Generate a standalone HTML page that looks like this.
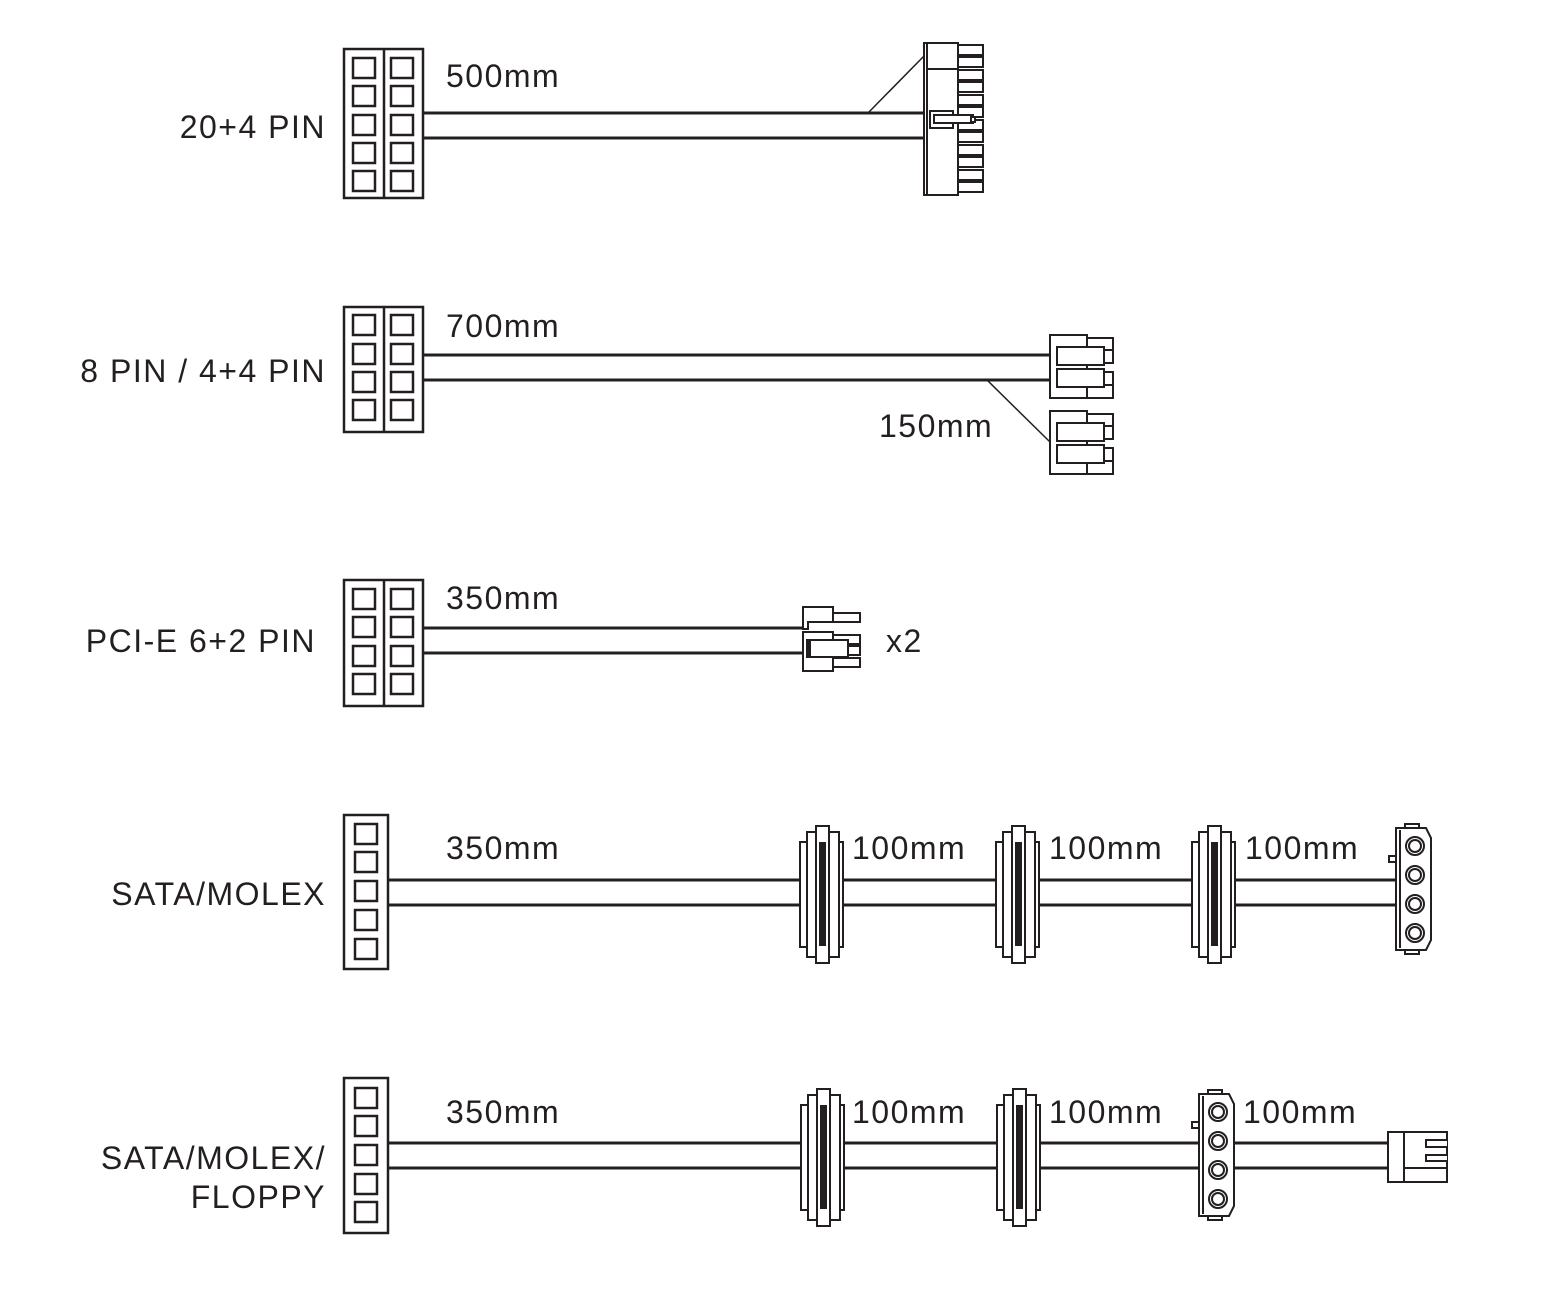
<!DOCTYPE html>
<html><head><meta charset="utf-8"><style>
html,body{margin:0;padding:0;background:#fff;}
svg{display:block}
text{font-family:"Liberation Sans",Arial,sans-serif;font-size:32px;letter-spacing:1.5px;fill:#231f20;}
</style></head><body>
<svg width="1548" height="1294" viewBox="0 0 1548 1294" xmlns="http://www.w3.org/2000/svg">
<defs>
<g id="sata" fill="#fff" stroke="#231f20" stroke-width="2">
<rect x="0" y="16" width="43" height="105"/>
<rect x="7" y="6" width="32" height="125"/>
<rect x="16" y="0" width="13" height="137"/>
<rect x="20" y="17" width="5" height="102" fill="#231f20"/>
</g>
<g id="molex" fill="#fff" stroke="#231f20" stroke-width="2">
<path d="M3 0 H33 L38 10 V112 L33 122 H3 Z"/>
<line x1="7" y1="2" x2="7" y2="120"/>
<rect x="12" y="-4" width="14" height="4"/>
<rect x="12" y="122" width="14" height="4"/>
<rect x="-4" y="28" width="7" height="6"/>
<circle cx="22" cy="18" r="9"/><circle cx="22" cy="18" r="6"/>
<circle cx="22" cy="47" r="9"/><circle cx="22" cy="47" r="6"/>
<circle cx="22" cy="76" r="9"/><circle cx="22" cy="76" r="6"/>
<circle cx="22" cy="105" r="9"/><circle cx="22" cy="105" r="6"/>
</g>
<g id="eps" fill="#fff" stroke="#231f20" stroke-width="2">
<rect x="37" y="3" width="26" height="22"/>
<rect x="37" y="41" width="26" height="22"/>
<rect x="0" y="0" width="37" height="63"/>
<rect x="7" y="12" width="47" height="18"/>
<rect x="7" y="34" width="47" height="18"/>
<rect x="54" y="15" width="9" height="13"/>
<rect x="54" y="37" width="9" height="13"/>
</g>
</defs>
<g fill="none" stroke="#231f20" stroke-width="2.5">
<rect x="344" y="49" width="79" height="149"/><line x1="384" y1="49" x2="384" y2="198"/>
<rect x="353" y="58" width="22" height="20"/><rect x="391" y="58" width="22" height="20"/>
<rect x="353" y="86" width="22" height="20"/><rect x="391" y="86" width="22" height="20"/>
<rect x="353" y="115" width="22" height="20"/><rect x="391" y="115" width="22" height="20"/>
<rect x="353" y="143" width="22" height="20"/><rect x="391" y="143" width="22" height="20"/>
<rect x="353" y="171" width="22" height="20"/><rect x="391" y="171" width="22" height="20"/>
<line x1="423" y1="113" x2="926" y2="113" stroke-width="3"/>
<line x1="423" y1="138" x2="926" y2="138" stroke-width="3"/>
<line x1="868" y1="113" x2="925" y2="55" stroke-width="1.5"/>
<rect x="344" y="307" width="79" height="125"/><line x1="384" y1="307" x2="384" y2="432"/>
<rect x="353" y="315" width="22" height="20"/><rect x="391" y="315" width="22" height="20"/>
<rect x="353" y="344" width="22" height="20"/><rect x="391" y="344" width="22" height="20"/>
<rect x="353" y="372" width="22" height="20"/><rect x="391" y="372" width="22" height="20"/>
<rect x="353" y="400" width="22" height="20"/><rect x="391" y="400" width="22" height="20"/>
<line x1="423" y1="355" x2="1051" y2="355" stroke-width="3"/>
<line x1="423" y1="380" x2="1051" y2="380" stroke-width="3"/>
<line x1="987" y1="380" x2="1050" y2="442" stroke-width="1.5"/>
<rect x="344" y="580" width="79" height="126"/><line x1="384" y1="580" x2="384" y2="706"/>
<rect x="353" y="589" width="22" height="20"/><rect x="391" y="589" width="22" height="20"/>
<rect x="353" y="617" width="22" height="20"/><rect x="391" y="617" width="22" height="20"/>
<rect x="353" y="646" width="22" height="20"/><rect x="391" y="646" width="22" height="20"/>
<rect x="353" y="674" width="22" height="20"/><rect x="391" y="674" width="22" height="20"/>
<line x1="423" y1="628" x2="804" y2="628" stroke-width="3"/>
<line x1="423" y1="653" x2="804" y2="653" stroke-width="3"/>
<rect x="344" y="815" width="44" height="154"/>
<rect x="355" y="824" width="22" height="20"/><rect x="355" y="852" width="22" height="20"/>
<rect x="355" y="881" width="22" height="20"/><rect x="355" y="910" width="22" height="20"/>
<rect x="355" y="939" width="22" height="20"/>
<line x1="388" y1="880" x2="1396" y2="880" stroke-width="3"/>
<line x1="388" y1="905" x2="1396" y2="905" stroke-width="3"/>
<rect x="344" y="1078" width="44" height="155"/>
<rect x="355" y="1088" width="22" height="20"/><rect x="355" y="1116" width="22" height="20"/>
<rect x="355" y="1145" width="22" height="20"/><rect x="355" y="1174" width="22" height="20"/>
<rect x="355" y="1202" width="22" height="20"/>
<line x1="388" y1="1143" x2="1390" y2="1143" stroke-width="3"/>
<line x1="388" y1="1168" x2="1390" y2="1168" stroke-width="3"/>
</g>
<g fill="#fff" stroke="#231f20" stroke-width="2">
<rect x="924" y="43" width="34" height="152"/>
<line x1="927" y1="43" x2="927" y2="195"/>
<line x1="927" y1="69" x2="958" y2="69"/>
<rect x="958" y="45" width="25" height="10"/><rect x="958" y="57" width="25" height="10"/>
<rect x="958" y="70" width="25" height="10"/><rect x="958" y="82" width="25" height="10"/>
<rect x="958" y="95" width="25" height="10"/><rect x="958" y="107" width="25" height="10"/>
<rect x="958" y="120" width="25" height="10"/><rect x="958" y="132" width="25" height="10"/>
<rect x="958" y="145" width="25" height="10"/><rect x="958" y="157" width="25" height="10"/>
<rect x="958" y="170" width="25" height="10"/><rect x="958" y="182" width="25" height="10"/>
<rect x="930" y="111" width="23" height="17"/>
<rect x="934" y="115" width="39" height="8"/>
<rect x="971" y="117" width="4" height="5"/>
</g>
<use href="#eps" x="1050" y="335"/>
<use href="#eps" x="1050" y="411"/>
<g fill="#fff" stroke="#231f20" stroke-width="2">
<rect x="833" y="613" width="27" height="9"/>
<path d="M803 607 H833 V622 H808 V629 H803 Z"/>
<rect x="833" y="635" width="27" height="9"/><rect x="833" y="646" width="27" height="9"/><rect x="833" y="658" width="27" height="9"/>
<rect x="803" y="632" width="30" height="39"/>
<rect x="808" y="640" width="40" height="17"/>
<rect x="807" y="640" width="3" height="17" fill="#231f20"/>
</g>
<use href="#sata" x="800" y="826"/>
<use href="#sata" x="996" y="826"/>
<use href="#sata" x="1192" y="826"/>
<use href="#molex" x="1393" y="828"/>
<use href="#sata" x="801" y="1089"/>
<use href="#sata" x="997" y="1089"/>
<use href="#molex" x="1196" y="1094"/>
<g fill="#fff" stroke="#231f20" stroke-width="2">
<rect x="1388" y="1132" width="59" height="50"/>
<line x1="1404" y1="1132" x2="1404" y2="1182"/>
<path d="M1447 1140 H1426 V1147 H1447 M1447 1155 H1426 V1161 H1447 M1447 1168 H1404"/>
</g>
<text x="326" y="138" text-anchor="end">20+4 PIN</text>
<text x="326" y="382" text-anchor="end">8 PIN / 4+4 PIN</text>
<text x="316" y="652" text-anchor="end">PCI-E 6+2 PIN</text>
<text x="326" y="905" text-anchor="end">SATA/MOLEX</text>
<text x="326" y="1169" text-anchor="end">SATA/MOLEX/</text>
<text x="326" y="1208" text-anchor="end">FLOPPY</text>
<text x="446" y="87">500mm</text>
<text x="446" y="337">700mm</text>
<text x="879" y="437">150mm</text>
<text x="446" y="609">350mm</text>
<text x="886" y="652">x2</text>
<text x="446" y="859">350mm</text>
<text x="852" y="859">100mm</text>
<text x="1049" y="859">100mm</text>
<text x="1245" y="859">100mm</text>
<text x="446" y="1123">350mm</text>
<text x="852" y="1123">100mm</text>
<text x="1049" y="1123">100mm</text>
<text x="1243" y="1123">100mm</text>
</svg>
</body></html>
